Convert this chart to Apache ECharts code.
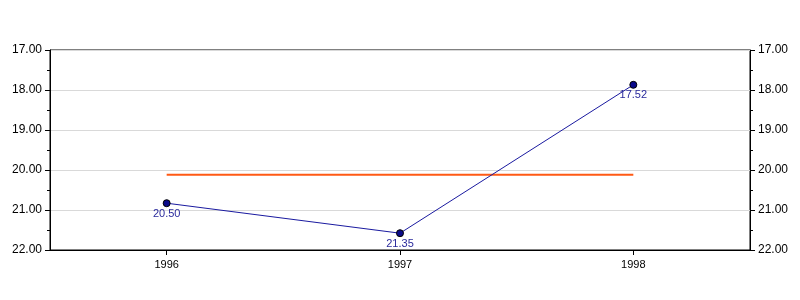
<!DOCTYPE html>
<html>
<head>
<meta charset="utf-8">
<script src="https://cdn.jsdelivr.net/npm/echarts@6/dist/echarts.min.js"></script>
<style>
html, body { margin: 0; padding: 0; background: #fff; }
#chart { width: 800px; height: 300px; }
</style>
</head>
<body>
<div id="chart"></div>
<script>
// 年份
var years = ['1996', '1997', '1998'];
// 点的位置
var values = [20.83, 21.58, 17.87];
// 点旁边显示的文字
var pointLabels = ['20.50', '21.35', '17.52'];
// 橙色水平线
var avgLine = [20.12, 20.12, 20.12];

var myChart = echarts.init(document.getElementById('chart'));

function valueAxis(pos) {
    return {
        type: 'value',
        position: pos,
        inverse: true,
        min: 17,
        max: 22,
        interval: 1,
        axisLine: { show: true, onZero: false, lineStyle: { color: '#000', width: 1 } },
        axisTick: { show: true, length: 5, lineStyle: { color: '#000' } },
        minorTick: { show: true, splitNumber: 2, length: 3, lineStyle: { color: '#000' } },
        axisLabel: {
            color: '#000',
            fontFamily: 'Liberation Sans',
            fontSize: 12,
            margin: 8,
            formatter: function (v) { return v.toFixed(2); }
        },
        splitLine: { show: pos === 'left', lineStyle: { color: '#d9d9d9', width: 1 } }
    };
}

var option = {
    animation: false,
    backgroundColor: '#fff',
    grid: {
        left: 50, right: 50, top: 50, bottom: 50,
        show: true,
        borderColor: '#000',
        borderWidth: 1,
        backgroundColor: 'transparent'
    },
    xAxis: {
        type: 'category',
        data: years,
        boundaryGap: true,
        axisLine: { show: true, lineStyle: { color: '#000' } },
        axisTick: { show: true, alignWithLabel: true, length: 5, lineStyle: { color: '#000' } },
        axisLabel: { color: '#000', fontFamily: 'Liberation Sans', fontSize: 11, margin: 9 },
        splitLine: { show: false }
    },
    yAxis: [valueAxis('left'), valueAxis('right')],
    series: [
        {
            type: 'line',
            data: avgLine,
            symbol: 'none',
            lineStyle: { color: '#ff5a14', width: 2 },
            z: 1
        },
        {
            type: 'line',
            data: values,
            symbol: 'circle',
            symbolSize: 7,
            itemStyle: { color: '#0a0a8a', borderColor: '#000', borderWidth: 1 },
            lineStyle: { color: '#1a1aa0', width: 1 },
            label: {
                show: true,
                position: 'bottom',
                distance: 1,
                color: '#2a2a9c',
                fontFamily: 'Liberation Sans',
                fontSize: 11,
                formatter: function (p) { return pointLabels[p.dataIndex]; }
            },
            z: 3
        }
    ]
};
myChart.setOption(option);
</script>
</body>
</html>
